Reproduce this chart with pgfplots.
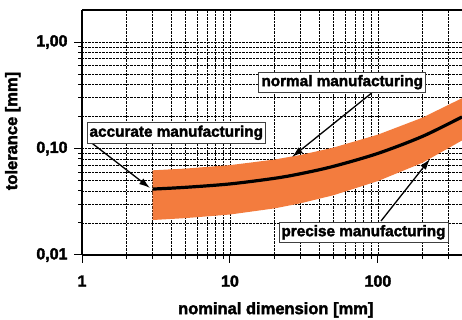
\documentclass[border=0pt]{standalone}
\usepackage{fontspec}
\setmainfont{Liberation Sans}[BoldFeatures={FakeBold=2.2}]
\usepackage{pgfplots}
\pgfplotsset{compat=1.18}
\usepgfplotslibrary{fillbetween}
\usetikzlibrary{arrows.meta}
\definecolor{band}{RGB}{243,124,62}

\pgfplotstableread{
x    lo      mid     hi
3    0.0213  0.0416  0.0624
5    0.0222  0.0432  0.0648
10   0.0240  0.0465  0.0698
20   0.0274  0.0525  0.0788
30   0.0306  0.0580  0.0870
50   0.0364  0.0680  0.1020
100  0.0495  0.0900  0.1350
200  0.0735  0.1300  0.1950
370  0.1190  0.1980  0.2970
}\tol

\begin{document}
\begin{tikzpicture}[
  lbl/.style={draw=black!75, fill=white, line width=0.9pt, inner xsep=2.5pt, inner ysep=3pt,
              font=\fontsize{15.3}{17}\selectfont\bfseries},
  arr/.style={line width=1.3pt, -{Latex[length=11pt,width=7pt]}}]
\begin{axis}[
  xmode=log, ymode=log,
  scale only axis, width=380pt, height=245pt,
  at={(0pt,0pt)}, anchor=south west,
  xmin=1, xmax=370, ymin=0.01, ymax=2,
  axis x line=bottom, axis y line=left,
  axis line style={line width=1.6pt, -},
  xtick={1,10,100}, xticklabels={1,10,100},
  ytick={0.01,0.1,1}, yticklabels={{0,01},{0,10},{1,00}},
  minor xtick={2,3,4,5,6,7,8,9,20,30,40,50,60,70,80,90,200,300},
  minor ytick={0.02,0.03,0.04,0.05,0.06,0.07,0.08,0.09,0.2,0.3,0.4,0.5,0.6,0.7,0.8,0.9},
  grid=both,
  major grid style={black, densely dotted, line width=0.6pt},
  minor grid style={black, densely dotted, line width=0.6pt},
  tick align=outside, major tick length=8pt, minor tick length=4pt,
  tick style={black, line width=1pt},
  ticklabel style={font=\fontsize{16}{18}\selectfont\bfseries},
  xticklabel style={yshift=-9pt},
  yticklabel style={xshift=-3pt},
  xlabel={nominal dimension [mm]}, ylabel={tolerance [mm]},
  xlabel style={at={(axis description cs:0.51,-0.224)}, anchor=center,
                font=\fontsize{16.5}{18}\selectfont\bfseries},
  ylabel style={at={(axis description cs:-0.182,0.506)}, anchor=center, rotate=0,
                font=\fontsize{16.5}{18}\selectfont\bfseries},
]
\addplot[name path=hi, draw=none] table[x=x, y=hi] {\tol};
\addplot[name path=lo, draw=none] table[x=x, y=lo] {\tol};
\addplot[band, draw=none] fill between[of=hi and lo];
\addplot[black, line width=3.2pt, smooth] table[x=x, y=mid] {\tol};
\end{axis}
\draw[line width=1.6pt] (0pt,245pt) -- (380pt,245pt);
\draw[arr] (9.7pt,112pt) -- (68pt,67pt);
\draw[arr] (289.7pt,162pt) -- (210pt,98pt);
\draw[arr] (299pt,34pt) -- (348pt,96pt);
\node[lbl] at (94.3pt,122.2pt) {accurate manufacturing};
\node[lbl] at (260.2pt,172.8pt) {normal manufacturing};
\node[lbl] at (281.5pt,22.7pt) {precise manufacturing};
\pgfresetboundingbox
\useasboundingbox (-82pt,-65pt) rectangle (380pt,255pt);
\end{tikzpicture}
\end{document}
